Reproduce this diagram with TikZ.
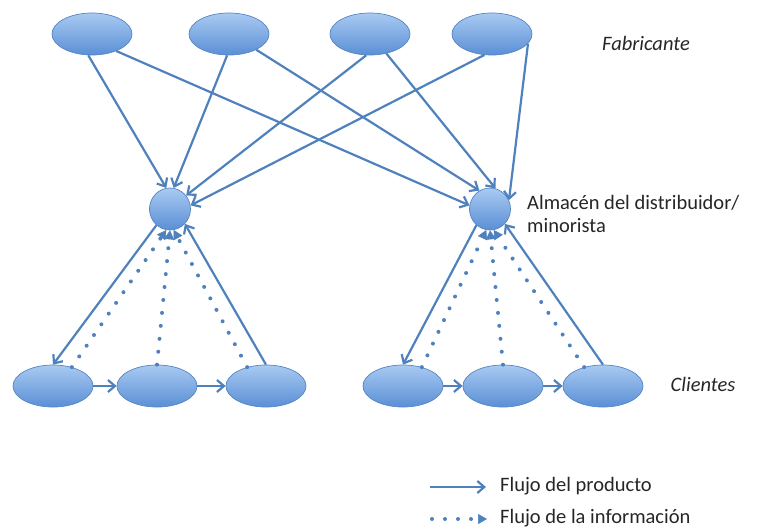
\documentclass[tikz,border=0pt]{standalone}
\usepackage{fontspec}
\setmainfont{Carlito}
\usetikzlibrary{shapes.geometric,arrows.meta}
\definecolor{ln}{HTML}{4F81BD}
\definecolor{topc}{HTML}{A9CAF2}
\definecolor{botc}{HTML}{5A8FD5}
\definecolor{edgec}{HTML}{5585C2}
\begin{document}
\begin{tikzpicture}[x=1pt,y=-1pt,
  blob/.style={ellipse,draw=edgec,line width=0.7pt,top color=topc,bottom color=botc,
    minimum width=80pt,minimum height=42pt,inner sep=0pt},
  hub/.style={blob,minimum width=41pt,minimum height=42pt},
  prod/.style={draw=ln,line width=2.2pt,-{Straight Barb[length=7pt,width=12pt]}},
  info/.style={draw=ln,line width=4pt,line cap=round,dash pattern=on 0pt off 13pt,
    -{Triangle[length=9pt,width=10pt,line width=0.5pt]}},
  lbl/.style={font=\fontsize{20.5}{23}\selectfont,text=black!85,inner sep=0pt}
]
\useasboundingbox (0,0) rectangle (772,531);

% manufacturers
\node[blob] (E1) at (92,34) {};
\node[blob] (E2) at (229,34) {};
\node[blob] (E3) at (370,34) {};
\node[blob] (E4) at (492,34) {};

% distributors
\node[hub] (L) at (170,209) {};
\node[hub] (R) at (490,209) {};

% customers
\node[blob] (C1) at (53,386) {};
\node[blob] (C2) at (157,386) {};
\node[blob] (C3) at (266,386) {};
\node[blob] (C4) at (403,386) {};
\node[blob] (C5) at (503,386) {};
\node[blob] (C6) at (603,386) {};

% labels
\node[lbl,font=\fontsize{20.5}{23}\selectfont\itshape] (fab) at (646,43) {Fabricante};
\node[lbl,font=\fontsize{20.5}{23}\selectfont\itshape] (cli) at (703,384) {Clientes};
\node[lbl,anchor=north west,align=left] (alm) at (527,195) {Almacén del distribuidor/\\minorista};

% product flows from manufacturers
\draw[prod] (E1.-100) -- (L.100);
\draw[prod] (E1.-35) -- (R.170);
\draw[prod] (E2.-95) -- (L.80);
\draw[prod] (E2.-30) -- (R.120);
\draw[prod] (E3.-100) -- (L.40);
\draw[prod] (E3.-50) -- (R.75);
\draw[prod] (E4.-110) -- (L.10);
\draw[prod] (E4.-15) -- (R.25);

% left group
\draw[prod] (L.-130) -- (C1.north);
\draw[prod] (C3.north) -- (L.-45);
\draw[prod] (C1) -- (C2);
\draw[prod] (C2) -- (C3);
\draw[info] (C1.45) -- (L.-100);
\draw[info] (C2.north) -- (L.-90);
\draw[info] (C3.135) -- (L.-80);

% right group
\draw[prod] (R.-130) -- (C4.north);
\draw[prod] (C6.north) -- (R.-45);
\draw[prod] (C4) -- (C5);
\draw[prod] (C5) -- (C6);
\draw[info] (C4.45) -- (R.-100);
\draw[info] (C5.north) -- (R.-90);
\draw[info] (C6.135) -- (R.-80);

% legend
\coordinate (s1) at (430,487);
\coordinate (s2) at (486,487);
\coordinate (d1) at (432,519);
\coordinate (d2) at (487,519);
\draw[prod] (s1) -- (s2);
\draw[info] (d1) -- (d2);
\node[lbl,anchor=west] (t1) at (500,486) {Flujo del producto};
\node[lbl,anchor=west] (t2) at (500,518) {Flujo de la información};
\end{tikzpicture}
\end{document}
